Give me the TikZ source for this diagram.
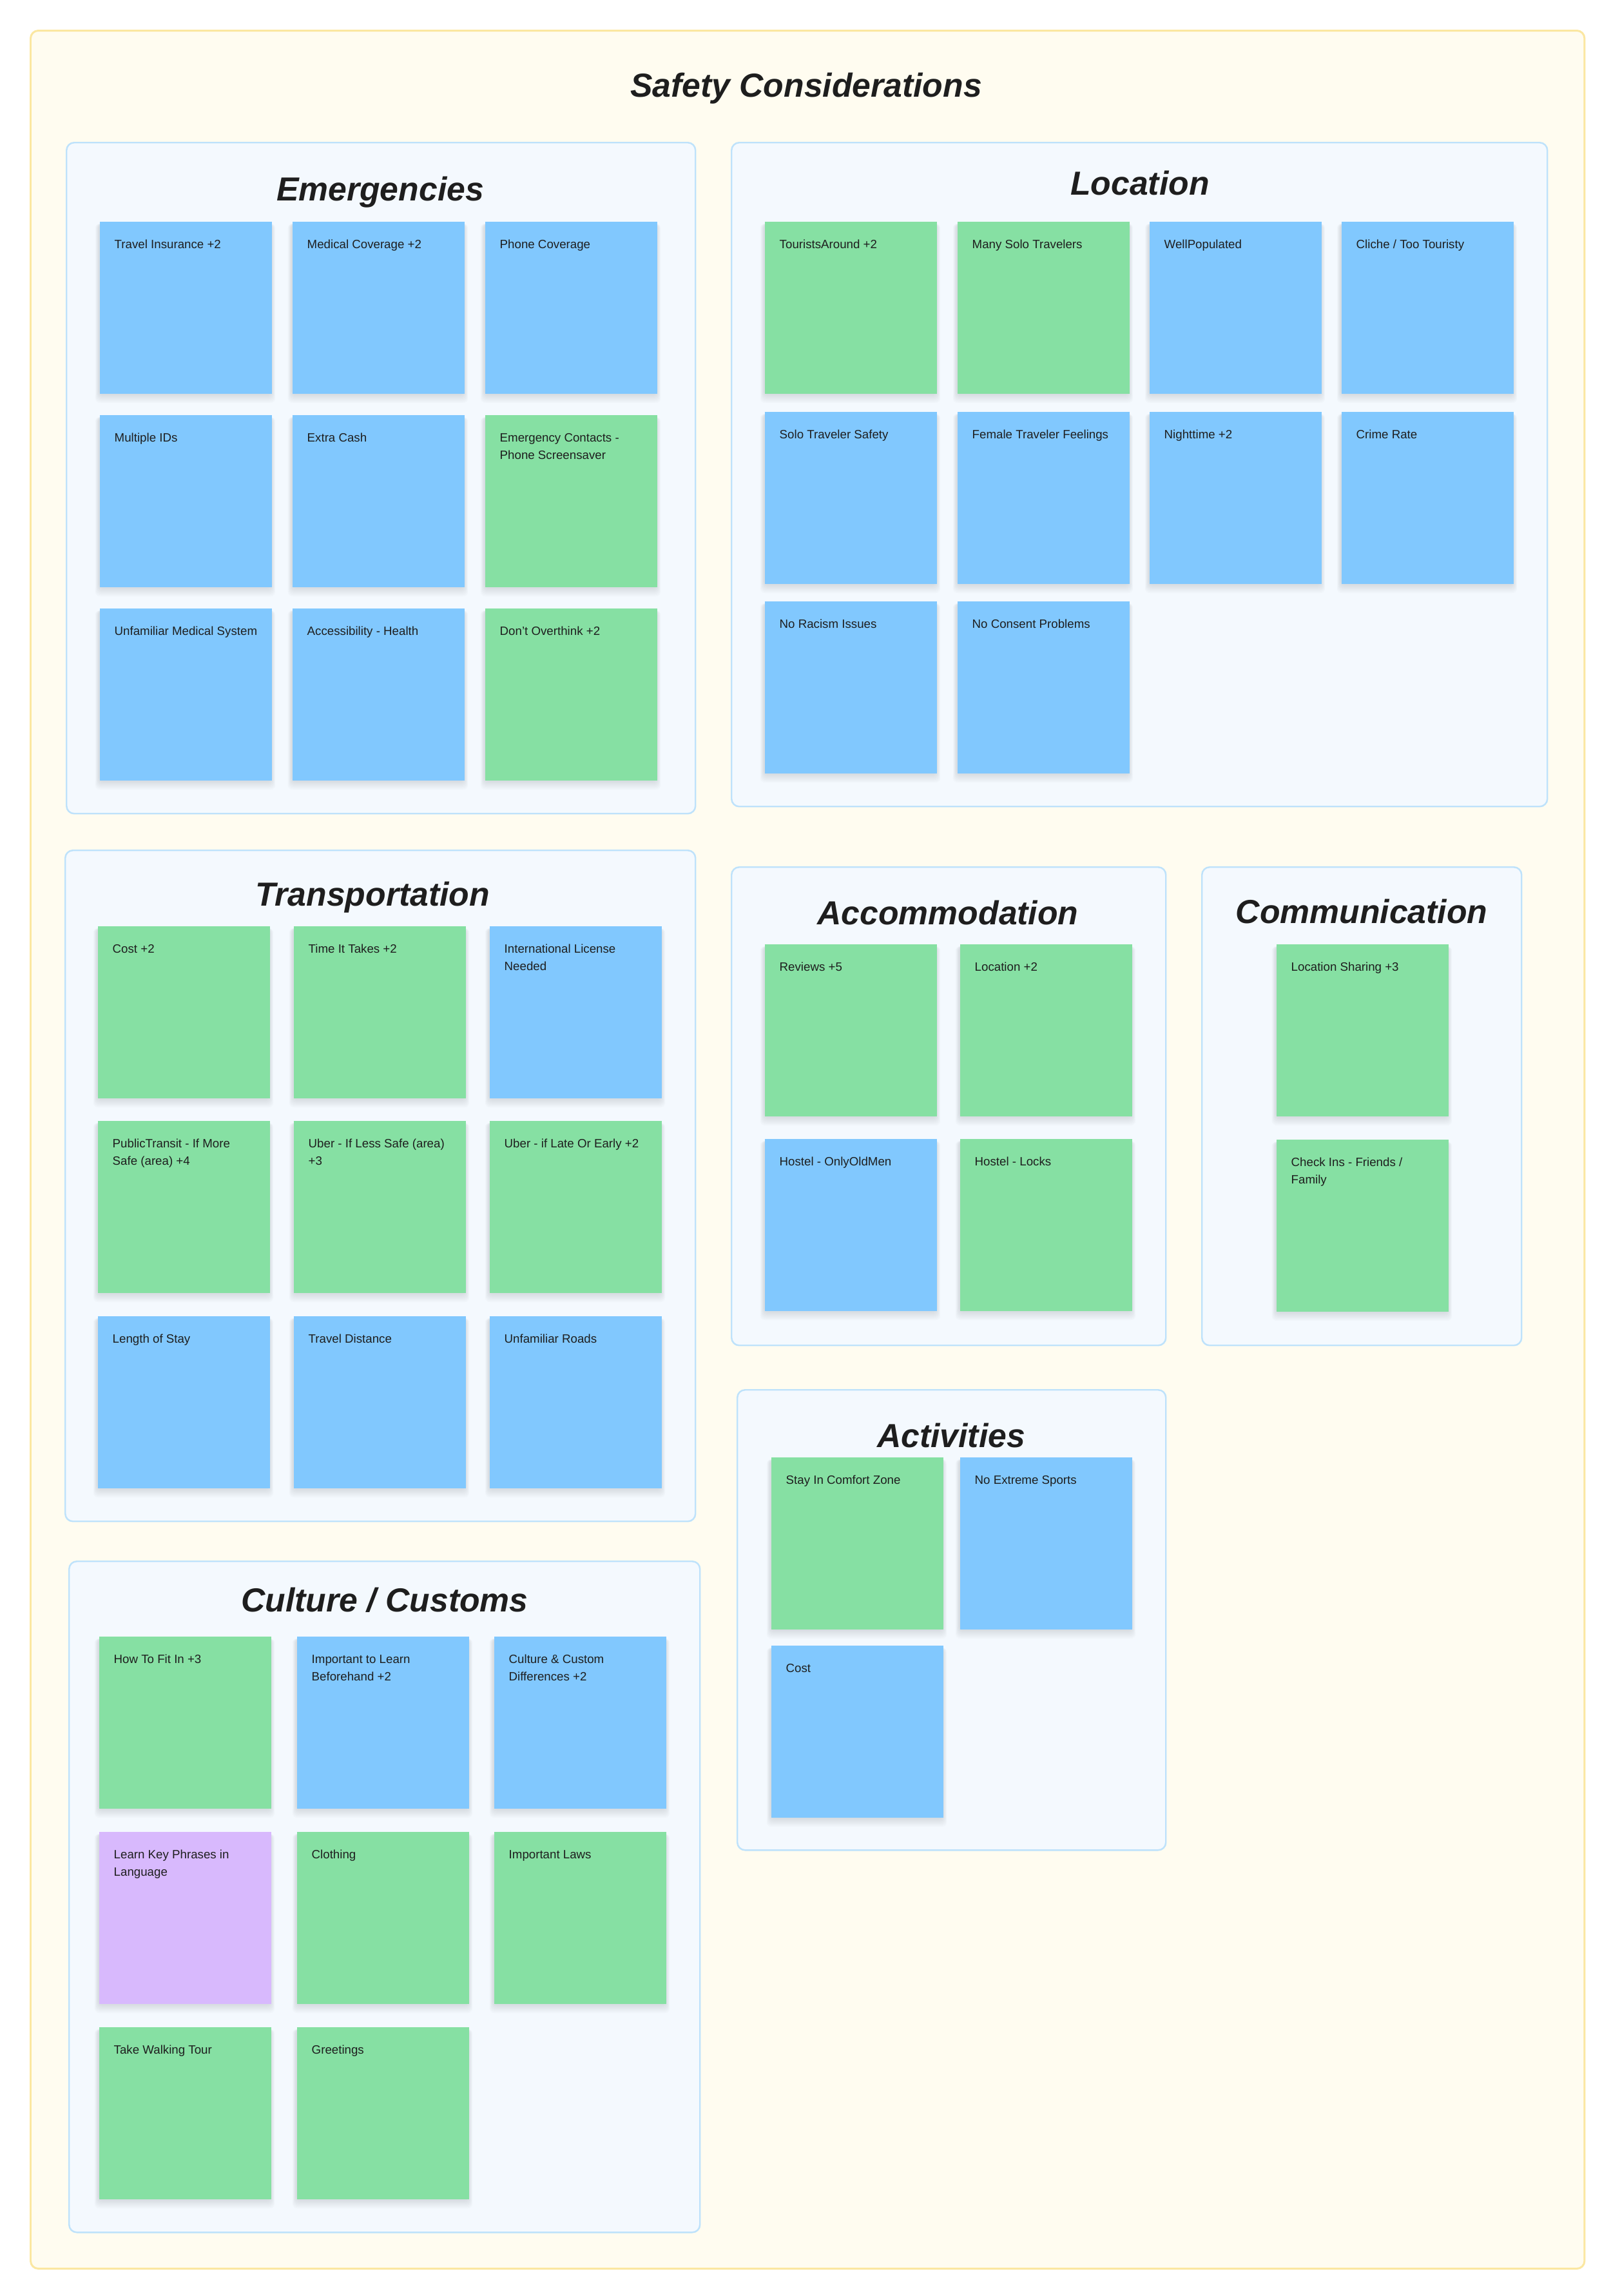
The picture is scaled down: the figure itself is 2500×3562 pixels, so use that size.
\documentclass[tikz,border=0pt]{standalone}
\usepackage{fontspec}
\setmainfont{Liberation Sans}
\newfontfamily\handfont{Liberation Sans}
\definecolor{framefill}{HTML}{FFFCF0}
\definecolor{framedraw}{HTML}{FBE7A1}
\definecolor{groupfill}{HTML}{F4F9FE}
\definecolor{groupdraw}{HTML}{BEE2FB}
\definecolor{nblue}{HTML}{81C8FE}
\definecolor{ngreen}{HTML}{86E0A3}
\definecolor{npurple}{HTML}{D8B9FD}
\definecolor{ink}{HTML}{1E1E1E}
\newcommand{\stickyfs}{\fontsize{5.32pt}{7.68pt}\selectfont}
\newcommand{\titlefs}{\handfont\bfseries\itshape\fontsize{14.7pt}{17pt}\selectfont}
\newcommand{\stickynote}[5]{%
  \foreach \k in {1,...,7} {\fill[shadowlayer] ({#2-\k*0.9},{#3+4}) rectangle ({#2+267+\k*0.9},{#3+268+\k*2});}
  \node[stickybox, fill=#4] (#1) at (#2,#3) {};
  \node[stickytext] (#1-t) at ([xshift=0.23cm,yshift=-0.42cm]#1.north west) {\parbox[t]{2.4cm}{\raggedright #5}};}
\newcommand{\groupbox}[5]{%
  \node[groupframe, minimum width={(#4-#2)*0.01cm}, minimum height={(#5-#3)*0.01cm}] (#1) at (#2,#3) {};}
\begin{document}
\begin{tikzpicture}[x=0.01cm,y=-0.01cm,
  outerframe/.style={draw=framedraw, fill=framefill, line width=0.85pt, rounded corners=3.4pt, anchor=north west, inner sep=0pt},
  groupframe/.style={draw=groupdraw, fill=groupfill, line width=0.7pt, rounded corners=3.4pt, anchor=north west, inner sep=0pt},
  shadowlayer/.style={fill=black, fill opacity=0.016, rounded corners=2pt},
  stickybox/.style={anchor=north west, inner sep=0pt, minimum width=2.67cm, minimum height=2.67cm},
  stickytext/.style={anchor=base west, inner sep=0pt, font=\stickyfs, text=ink},
  htitle/.style={anchor=base, inner sep=0pt, font=\titlefs, text=ink}]
\useasboundingbox (0,0) rectangle (2500,3562);
\fill[white] (0,0) rectangle (2500,3562);
\node[outerframe, minimum width=24.10cm, minimum height=34.70cm] (outer) at (46,46) {};
\node[htitle] (title) at (1251,150) {Safety Considerations};

% groups
\groupbox{emerg}{102}{220}{1078}{1261}
\groupbox{locat}{1134}{220}{2400}{1250}
\groupbox{trans}{100}{1318}{1078}{2359}
\groupbox{cultu}{106}{2421}{1085}{3462}
\groupbox{accom}{1134}{1344}{1808}{2086}
\groupbox{commu}{1864}{1344}{2360}{2086}
\groupbox{activ}{1143}{2155}{1808}{2869}

\node[htitle] (emerg-title) at (590,311) {Emergencies};
\node[htitle] (locat-title) at (1769,302) {Location};
\node[htitle] (trans-title) at (578,1405) {Transportation};
\node[htitle] (cultu-title) at (597,2500) {Culture / Customs};
\node[htitle] (accom-title) at (1471,1434) {Accommodation};
\node[htitle] (commu-title) at (2113,1432) {Communication};
\node[htitle] (activ-title) at (1476,2245) {Activities};

% Emergencies
\stickynote{e1}{154}{343}{nblue}{Travel Insurance +2}
\stickynote{e2}{453}{343}{nblue}{Medical Coverage +2}
\stickynote{e3}{752}{343}{nblue}{Phone Coverage}
\stickynote{e4}{154}{643}{nblue}{Multiple IDs}
\stickynote{e5}{453}{643}{nblue}{Extra Cash}
\stickynote{e6}{752}{643}{ngreen}{Emergency Contacts -\\Phone Screensaver}
\stickynote{e7}{154}{943}{nblue}{Unfamiliar Medical System}
\stickynote{e8}{453}{943}{nblue}{Accessibility - Health}
\stickynote{e9}{752}{943}{ngreen}{Don’t Overthink +2}

% Location
\stickynote{l1}{1186}{343}{ngreen}{TouristsAround +2}
\stickynote{l2}{1485}{343}{ngreen}{Many Solo Travelers}
\stickynote{l3}{1783}{343}{nblue}{WellPopulated}
\stickynote{l4}{2081}{343}{nblue}{Cliche / Too Touristy}
\stickynote{l5}{1186}{638}{nblue}{Solo Traveler Safety}
\stickynote{l6}{1485}{638}{nblue}{Female Traveler Feelings}
\stickynote{l7}{1783}{638}{nblue}{Nighttime +2}
\stickynote{l8}{2081}{638}{nblue}{Crime Rate}
\stickynote{l9}{1186}{932}{nblue}{No Racism Issues}
\stickynote{l10}{1485}{932}{nblue}{No Consent Problems}

% Transportation
\stickynote{t1}{151}{1436}{ngreen}{Cost +2}
\stickynote{t2}{455}{1436}{ngreen}{Time It Takes +2}
\stickynote{t3}{759}{1436}{nblue}{International License\\Needed}
\stickynote{t4}{151}{1738}{ngreen}{PublicTransit - If More\\Safe (area) +4}
\stickynote{t5}{455}{1738}{ngreen}{Uber - If Less Safe (area)\\+3}
\stickynote{t6}{759}{1738}{ngreen}{Uber - if Late Or Early +2}
\stickynote{t7}{151}{2041}{nblue}{Length of Stay}
\stickynote{t8}{455}{2041}{nblue}{Travel Distance}
\stickynote{t9}{759}{2041}{nblue}{Unfamiliar Roads}

% Culture / Customs
\stickynote{c1}{153}{2538}{ngreen}{How To Fit In +3}
\stickynote{c2}{460}{2538}{nblue}{Important to Learn\\Beforehand +2}
\stickynote{c3}{766}{2538}{nblue}{Culture \& Custom\\Differences +2}
\stickynote{c4}{153}{2841}{npurple}{Learn Key Phrases in\\Language}
\stickynote{c5}{460}{2841}{ngreen}{Clothing}
\stickynote{c6}{766}{2841}{ngreen}{Important Laws}
\stickynote{c7}{153}{3144}{ngreen}{Take Walking Tour}
\stickynote{c8}{460}{3144}{ngreen}{Greetings}

% Accommodation
\stickynote{a1}{1186}{1464}{ngreen}{Reviews +5}
\stickynote{a2}{1489}{1464}{ngreen}{Location +2}
\stickynote{a3}{1186}{1766}{nblue}{Hostel - OnlyOldMen}
\stickynote{a4}{1489}{1766}{ngreen}{Hostel - Locks}

% Communication
\stickynote{m1}{1980}{1464}{ngreen}{Location Sharing +3}
\stickynote{m2}{1980}{1767}{ngreen}{Check Ins - Friends /\\Family}

% Activities
\stickynote{v1}{1196}{2260}{ngreen}{Stay In Comfort Zone}
\stickynote{v2}{1489}{2260}{nblue}{No Extreme Sports}
\stickynote{v3}{1196}{2552}{nblue}{Cost}
\end{tikzpicture}
\end{document}
